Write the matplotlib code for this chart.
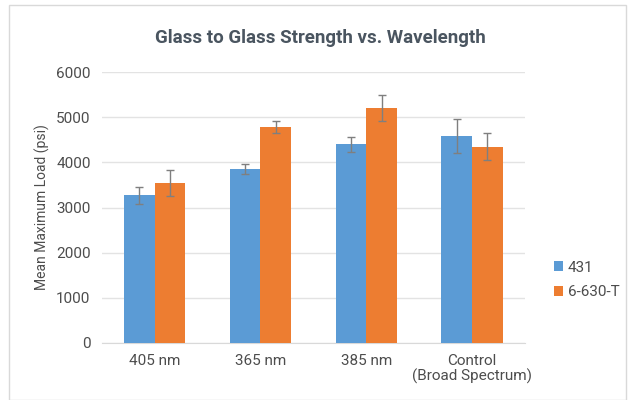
import numpy as np
import matplotlib.pyplot as plt
from matplotlib.patches import Rectangle

# data
categories = ['405 nm', '365 nm', '385 nm', 'Control\n(Broad Spectrum)']
series_names = ['431', '6-630-T']
vals_431 = [3270, 3860, 4400, 4580]
err_431 = [185, 110, 165, 375]
vals_630 = [3550, 4780, 5200, 4350]
err_630 = [290, 135, 285, 295]
yticks = [0, 1000, 2000, 3000, 4000, 5000, 6000]

plt.rcParams['font.family'] = ['Roboto', 'DejaVu Sans']

BLUE = '#5b9bd5'
ORANGE = '#ed7d31'
TXT = '#4d4d4d'

fig = plt.figure(figsize=(6.28, 4.0), dpi=100)
fig.patches.append(Rectangle((0.014, 0.0), 0.983, 0.988, transform=fig.transFigure,
                             fill=False, edgecolor='#d9d9d9', linewidth=1.0))

ax = fig.add_axes([0.162, 0.1425, 0.674, 0.6775])
x = np.arange(len(categories))
w = 0.29
err_kw = dict(ecolor='#7f7f7f', elinewidth=1.0, capsize=3, capthick=1.0)
ax.bar(x - w / 2, vals_431, w, yerr=err_431, color=BLUE, label=series_names[0],
       error_kw=err_kw, zorder=3)
ax.bar(x + w / 2, vals_630, w, yerr=err_630, color=ORANGE, label=series_names[1],
       error_kw=err_kw, zorder=3)

ax.set_xlim(-0.5, len(categories) - 0.5)
ax.set_ylim(0, 6000)
ax.set_yticks(yticks)
ax.set_xticks(x)
ax.set_xticklabels(categories, fontsize=11, color=TXT, linespacing=1.05)
ax.tick_params(axis='y', labelsize=11, labelcolor=TXT, length=0, pad=8)
ax.tick_params(axis='x', length=0, pad=8)
ax.grid(axis='y', color='#e3e3e3', linewidth=1.0, zorder=0)
for s in ['top', 'right', 'left']:
    ax.spines[s].set_visible(False)
ax.spines['bottom'].set_color('#d9d9d9')
ax.set_ylabel('Mean Maximum Load (psi)', fontsize=10, color=TXT, labelpad=4)

fig.text(0.51, 0.905, 'Glass to Glass Strength vs. Wavelength', ha='center', va='center',
         fontsize=13.5, fontweight='bold', color='#4a5560')

fig.legend(loc='center left', bbox_to_anchor=(0.86, 0.3), frameon=False,
           fontsize=11, labelcolor=TXT, handlelength=0.6, handleheight=0.6,
           handletextpad=0.3, labelspacing=0.7)

fig.savefig('out.png', dpi=100)
